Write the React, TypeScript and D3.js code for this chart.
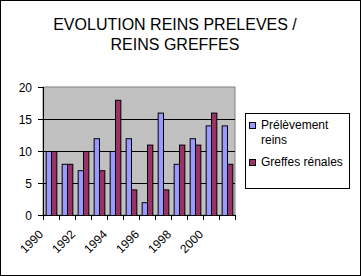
import React from "react";
import * as d3 from "d3";

const years = ["1990","1991","1992","1993","1994","1995","1996","1997","1998","1999","2000","2001"];
const prelevement = [10, 8, 7, 12, 10, 12, 2, 16, 8, 12, 14, 14];
const greffes = [10, 8, 10, 7, 18, 4, 11, 4, 11, 11, 16, 8];
const yTicks = [0, 5, 10, 15, 20];
const seriesNames = ["Prélèvement", "Greffes rénales"];
const colors = ["#9999FF", "#993366"];

export default function App() {
  const W = 361, H = 276;
  const left = 43, right = 235, top = 87, bottom = 215;
  const x = d3.scaleBand().domain(years).range([left, right]).paddingInner(0).paddingOuter(0);
  const y = d3.scaleLinear().domain([0, 20]).range([bottom, top]);
  const bw = x.bandwidth();
  const barW = bw / 3;
  const font = "'Liberation Sans', Arial, sans-serif";
  const series = [prelevement, greffes];

  return (
    <svg width={W} height={H} style={{ position: "absolute", left: 0, top: 0 }} fontFamily={font}>
      <rect x={0.5} y={0.5} width={W - 1} height={H - 1} fill="#fff" stroke="#000" />
      <text x={175} y={30} textAnchor="middle" fontSize={16}>EVOLUTION REINS PRELEVES /</text>
      <text x={175} y={50} textAnchor="middle" fontSize={16}>REINS GREFFES</text>

      <rect x={left} y={top} width={right - left} height={bottom - top} fill="#C0C0C0" stroke="#808080" />
      {yTicks.filter(t => t > 0 && t < 20).map(t => (
        <line key={t} x1={left} x2={right} y1={y(t) + 0.5} y2={y(t) + 0.5} stroke="#000" />
      ))}
      {series.map((vals, si) => vals.map((v, i) => (
        <rect key={si + "-" + i}
          x={(x(years[i]) as number) + barW / 2 + si * barW + 0.5}
          y={y(v) + 0.5}
          width={barW}
          height={bottom - y(v)}
          fill={colors[si]} stroke="#000" />
      )))}
      <line x1={left + 0.5} x2={left + 0.5} y1={top} y2={bottom + 1} stroke="#000" />
      <line x1={left} x2={right} y1={bottom + 0.5} y2={bottom + 0.5} stroke="#000" />
      {yTicks.map(t => (
        <g key={t}>
          <line x1={left - 5} x2={left} y1={y(t) + 0.5} y2={y(t) + 0.5} stroke="#000" />
          <text x={left - 11} y={y(t) + 4.5} textAnchor="end" fontSize={12}>{t}</text>
        </g>
      ))}
      {years.concat(["end"]).map((yr, i) => {
        const xx = left + i * bw;
        return <line key={i} x1={Math.round(xx) + 0.5} x2={Math.round(xx) + 0.5} y1={bottom} y2={bottom + 5} stroke="#000" />;
      })}
      {years.map((yr, i) => i % 2 === 0 ? (
        <text key={yr} transform={`translate(${(x(yr) as number) + 1},${235}) rotate(-45)`} textAnchor="end" fontSize={12}>{yr}</text>
      ) : null)}

      <rect x={245.5} y={113.5} width={104} height={75} fill="#fff" stroke="#000" />
      {seriesNames.map((n, i) => (
        <g key={n}>
          <rect x={249.5} y={(i === 0 ? 122 : 159) + 0.5} width={6} height={6} fill={colors[i]} stroke="#000" />
        </g>
      ))}
      <text x={261} y={129} fontSize={12}>Prélèvement</text>
      <text x={261} y={144} fontSize={12}>reins</text>
      <text x={261} y={166} fontSize={12}>Greffes rénales</text>
    </svg>
  );
}
